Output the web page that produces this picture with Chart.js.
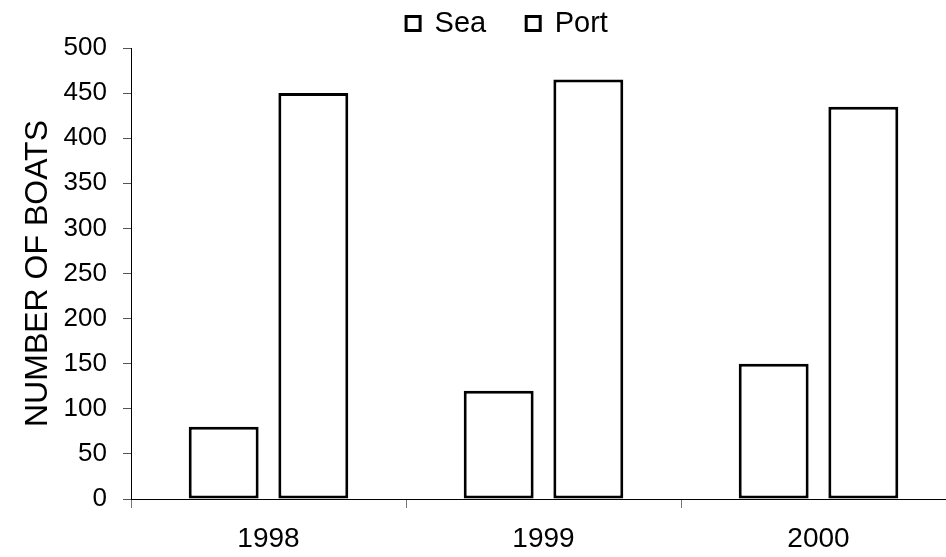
<!DOCTYPE html>
<html>
<head>
<meta charset="utf-8">
<script src="https://cdn.jsdelivr.net/npm/chart.js@4/dist/chart.umd.min.js"></script>
<style>
  html, body { margin: 0; padding: 0; background: #fff; overflow: hidden; }
  #wrap { width: 956px; height: 557px; }
</style>
</head>
<body>
<div id="wrap"><canvas id="chart" width="956" height="557"></canvas></div>
<script>
// boats counted per year
const years = ['1998', '1999', '2000'];
const seaBoats = [80, 120, 150];
const portBoats = [450, 465, 435];
const yTicks = [0, 50, 100, 150, 200, 250, 300, 350, 400, 450, 500];

const FONT = '"Liberation Sans", Arial, sans-serif';

const barStyle = {
  backgroundColor: '#ffffff',
  borderColor: '#000000',
  borderWidth: 3,
  borderSkipped: false,
  barPercentage: 0.78,
  categoryPercentage: 0.652,
};

new Chart(document.getElementById('chart'), {
  type: 'bar',
  data: {
    labels: years,
    datasets: [
      { label: 'Sea', data: seaBoats, ...barStyle },
      { label: 'Port', data: portBoats, ...barStyle },
    ],
  },
  options: {
    responsive: false,
    animation: false,
    devicePixelRatio: 1,
    // legend padding is wide for the gap between items, so pull the box up
    layout: { padding: { left: 58, top: -31, right: 0, bottom: 0 } },
    plugins: {
      tooltip: { enabled: false },
      legend: {
        position: 'top',
        maxHeight: 83,
        labels: {
          color: '#000',
          font: { family: FONT, size: 29 },
          boxWidth: 14,
          boxHeight: 14,
          padding: 40,
          generateLabels: (chart) => chart.data.datasets.map((ds, i) => ({
            text: ds.label,
            fillStyle: '#fff',
            strokeStyle: '#000',
            lineWidth: 3,
            datasetIndex: i,
            hidden: false,
          })),
        },
      },
    },
    scales: {
      x: {
        grid: { display: true, drawOnChartArea: false, offset: true, tickLength: 9, color: '#777' },
        border: { display: true, color: '#000', width: 1 },
        ticks: { color: '#000', font: { family: FONT, size: 28 }, padding: 14 },
        afterFit: (scale) => { scale.height = 58; },
      },
      y: {
        min: 0,
        max: 500,
        afterBuildTicks: (scale) => { scale.ticks = yTicks.map(v => ({ value: v })); },
        grid: { display: true, drawOnChartArea: false, tickLength: 8, color: '#555' },
        border: { display: true, color: '#000', width: 1 },
        ticks: { color: '#000', font: { family: FONT, size: 26 }, padding: 16 },
        title: {
          display: true,
          text: 'NUMBER OF BOATS',
          color: '#000',
          font: { family: FONT, size: 32 },
          padding: { top: -39, bottom: 0 },
        },
        afterFit: (scale) => { scale.width = 73; },
      },
    },
  },
});
</script>
</body>
</html>
